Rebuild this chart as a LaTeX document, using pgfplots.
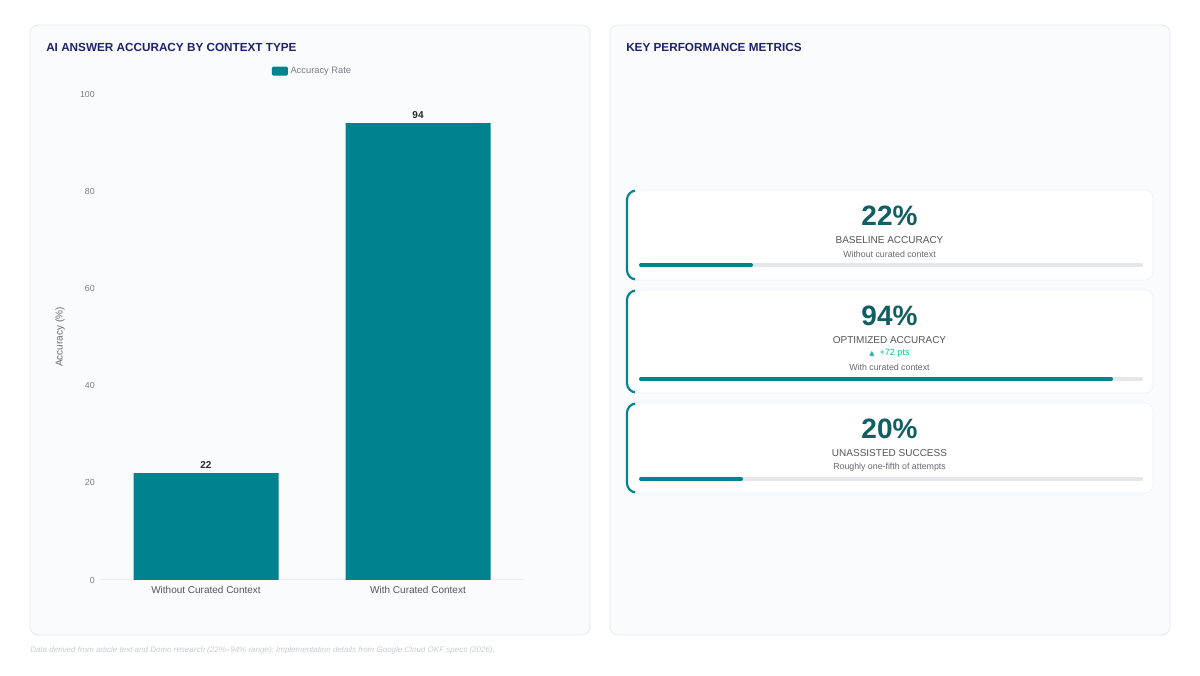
\documentclass[border=0pt]{standalone}
\usepackage{pgfplots}
\pgfplotsset{compat=1.18}
\usepackage{fontspec}
\setmainfont{Liberation Sans}
\newfontfamily\symfont{DejaVu Sans}

\definecolor{barteal}{RGB}{0,131,143}
\definecolor{darkteal}{RGB}{17,94,99}
\definecolor{navy}{RGB}{30,33,110}
\definecolor{panelbg}{RGB}{249,251,253}
\definecolor{panelline}{RGB}{230,234,240}
\definecolor{cardline}{RGB}{238,241,245}
\definecolor{tickgrey}{RGB}{125,125,132}
\definecolor{labelgrey}{RGB}{85,85,92}
\definecolor{subgrey}{RGB}{105,105,112}
\definecolor{darktext}{RGB}{40,40,45}
\definecolor{track}{RGB}{229,231,235}
\definecolor{axisline}{RGB}{232,235,240}
\definecolor{upgreen}{RGB}{20,184,150}
\definecolor{footgrey}{RGB}{200,204,210}

% progress bar of one metric card: #1 = y position (pt), #2 = value
\newcommand{\progress}[2]{%
  \begin{axis}[at={(480.75pt,#1)}, anchor=west,
    width=375pt, height=3pt, scale only axis, hide axis,
    xmin=0, xmax=100, ymin=-1, ymax=1, clip=false]
    \addplot[track, line width=3pt, line cap=round] coordinates {(0,0) (100,0)};
    \addplot[barteal, line width=3pt, line cap=round] coordinates {(0,0) (#2,0)};
  \end{axis}}

% metric card: #1 top, #2 bottom (px from bottom)
\newcommand{\card}[2]{%
  \fill[white, rounded corners=6pt] (626,#1) rectangle (1153,#2);
  \draw[cardline, line width=0.5pt, rounded corners=6pt] (626,#1) rectangle (1153,#2);
  \begin{scope}
    \clip (620,#2-3) rectangle (635,#1+3);
    \draw[barteal, line width=1.6pt, rounded corners=7pt] (627,#1-0.5) rectangle (1153,#2+0.5);
  \end{scope}}

\begin{document}
\begin{tikzpicture}[x=0.75pt, y=0.75pt]
  \fill[white] (0,0) rectangle (1200,675);

  % panels
  \filldraw[fill=panelbg, draw=panelline, line width=0.6pt, rounded corners=6pt] (30,650) rectangle (590,40);
  \filldraw[fill=panelbg, draw=panelline, line width=0.6pt, rounded corners=6pt] (610,650) rectangle (1170,40);

  \node[anchor=west, inner sep=0pt, text=navy, font=\bfseries\fontsize{8.8}{10}\selectfont] at (46,628) {AI ANSWER ACCURACY BY CONTEXT TYPE};
  \node[anchor=west, inner sep=0pt, text=navy, font=\bfseries\fontsize{8.8}{10}\selectfont] at (626,628) {KEY PERFORMANCE METRICS};

  % bar chart
  \begin{axis}[
      at={(75pt,71.25pt)}, anchor=south west,
      width=318pt, height=364.5pt, scale only axis,
      ybar, bar width=108.75pt,
      xmin=-0.5, xmax=1.5, ymin=0, ymax=100,
      xtick={0,1},
      xticklabels={Without Curated Context, With Curated Context},
      ytick={0,20,40,60,80,100},
      axis x line*=bottom, axis y line*=left,
      axis line style={-},
      y axis line style={draw=none},
      x axis line style={draw=axisline, line width=0.75pt},
      major tick length=0pt,
      /pgf/number format/assume math mode=true,
      yticklabel style={font=\fontsize{6.6}{8}\selectfont, text=tickgrey, inner sep=0pt, xshift=-3.75pt},
      xticklabel style={font=\fontsize{7.5}{9}\selectfont, text=labelgrey, inner sep=0pt, yshift=-4.5pt},
      ylabel={Accuracy (\%)},
      every axis y label/.style={at={(axis description cs:-0.094,0.5)}, rotate=90, anchor=center,
        font=\fontsize{7.5}{9}\selectfont, text=subgrey},
      nodes near coords,
      nodes near coords style={font=\bfseries\fontsize{7.5}{9}\selectfont, text=darktext,
        anchor=south, inner sep=0pt, yshift=3pt},
      legend style={at={(axis description cs:0.502,1.047)}, anchor=center, draw=none, fill=none,
        font=\fontsize{7}{8}\selectfont, text=tickgrey, inner sep=0pt},
      legend image code/.code={\fill[barteal, rounded corners=1pt] (0pt,-3.375pt) rectangle (12pt,3.375pt);},
    ]
    \addplot[fill=barteal, draw=none] coordinates {(0,22) (1,94)};
    \addlegendentry{Accuracy Rate}
  \end{axis}

  % metric cards
  \card{485}{395}
  \card{385}{282}
  \card{272}{182}

  \node[text=darkteal, font=\bfseries\fontsize{21}{24}\selectfont] at (889.5,459) {22\%};
  \node[text=labelgrey, font=\fontsize{7.5}{9}\selectfont] at (889.5,435) {BASELINE ACCURACY};
  \node[text=subgrey, font=\fontsize{6.6}{8}\selectfont] at (889.5,421) {Without curated context};

  \node[text=darkteal, font=\bfseries\fontsize{21}{24}\selectfont] at (889.5,359) {94\%};
  \node[text=labelgrey, font=\fontsize{7.5}{9}\selectfont] at (889.5,335) {OPTIMIZED ACCURACY};
  \node[text=upgreen, font=\fontsize{6.8}{8}\selectfont] at (889.5,322) {{\symfont\fontsize{5}{6}\selectfont ▲}\ \ +72 pts};
  \node[text=subgrey, font=\fontsize{6.6}{8}\selectfont] at (889.5,308) {With curated context};

  \node[text=darkteal, font=\bfseries\fontsize{21}{24}\selectfont] at (889.5,246) {20\%};
  \node[text=labelgrey, font=\fontsize{7.5}{9}\selectfont] at (889.5,222) {UNASSISTED SUCCESS};
  \node[text=subgrey, font=\fontsize{6.6}{8}\selectfont] at (889.5,208) {Roughly one-fifth of attempts};

  \progress{307.5pt}{22}
  \progress{222pt}{94}
  \progress{147pt}{20}

  \node[anchor=west, inner sep=0pt, text=footgrey, font=\itshape\fontsize{6}{7}\selectfont] at (30,25)
    {Data derived from article text and Domo research (22\%–94\% range); Implementation details from Google Cloud OKF specs (2026).};

  \pgfresetboundingbox
  \useasboundingbox (0,0) rectangle (1200,675);
\end{tikzpicture}
\end{document}
